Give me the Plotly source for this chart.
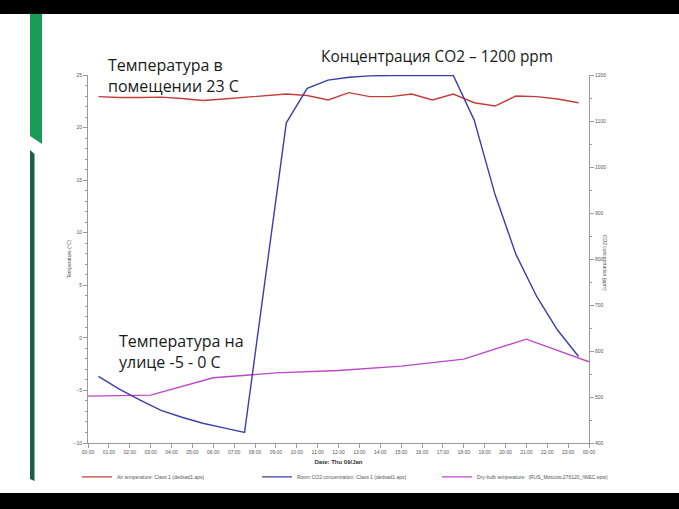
import plotly.graph_objects as go

# ---- data ----
hours_half = [0.5, 1.5, 2.5, 3.5, 4.5, 5.5, 6.5, 7.5, 8.5, 9.5, 10.5, 11.5,
              12.5, 13.5, 14.5, 15.5, 16.5, 17.5, 18.5, 19.5, 20.5, 21.5, 22.5, 23.5]
air_temp = [22.94, 22.86, 22.86, 22.9, 22.76, 22.57, 22.72, 22.86, 23.05, 23.19, 23.05, 22.62,
            23.32, 22.94, 22.94, 23.19, 22.62, 23.19, 22.36, 22.05, 23.0, 22.94, 22.72, 22.36]
co2 = [545, 517, 493, 471, 456, 443, 433, 423, 760, 1096, 1171, 1189,
       1195, 1198, 1199, 1199, 1199, 1199, 1102, 940, 810, 718, 645, 588]
hours_3h = [0, 3, 6, 9, 12, 15, 18, 21, 24]
outdoor_temp = [-5.54, -5.45, -3.80, -3.33, -3.10, -2.69, -2.02, -0.12, -2.28]

tick_hours = list(range(25))
tick_labels = ["%02d:00" % (h % 24) for h in tick_hours]

names = ["Air temperature: Class 1 (dedsad1.aps)",
         "Room CO2 concentration: Class 1 (dedsad1.aps)",
         "Dry-bulb temperature:  (RUS_Moscow.276120_IWEC.epw)"]

RED = "#c63c3c"
BLUE = "#3d3daa"
PURPLE = "#bb48c8"
AX = "#9a9a9a"
TXT = "#555555"

fig = go.Figure()
fig.add_trace(go.Scatter(x=hours_half, y=air_temp, mode="lines", name=names[0],
                         line=dict(color=RED, width=1.4), yaxis="y"))
fig.add_trace(go.Scatter(x=hours_half, y=co2, mode="lines", name=names[1],
                         line=dict(color=BLUE, width=1.4), yaxis="y2"))
fig.add_trace(go.Scatter(x=hours_3h, y=outdoor_temp, mode="lines", name=names[2],
                         line=dict(color=PURPLE, width=1.4), yaxis="y"))

tickfont = dict(family="Liberation Sans, Arial", size=5, color=TXT)

fig.update_layout(
    width=679, height=509,
    margin=dict(l=88, r=90, t=75, b=66),
    paper_bgcolor="white", plot_bgcolor="white",
    showlegend=True,
    legend=dict(orientation="h", x=-0.022, xanchor="left", y=-0.092, yanchor="middle",
                font=dict(family="Liberation Sans, Arial", size=5, color=TXT),
                entrywidth=135, entrywidthmode="pixels", itemwidth=30,
                bgcolor="rgba(0,0,0,0)"),
    xaxis=dict(range=[0, 24], tickvals=tick_hours, ticktext=tick_labels,
               showgrid=False, zeroline=False, showline=True, linecolor=AX, linewidth=1,
               ticks="outside", ticklen=4, tickcolor=AX, tickfont=tickfont,
               title=dict(text="<b>Date: Thu 09/Jan</b>", standoff=5,
                          font=dict(family="Liberation Sans, Arial", size=6, color="#333"))),
    yaxis=dict(range=[-10, 25], dtick=5, showgrid=False, zeroline=False,
               showline=True, linecolor=AX, linewidth=1,
               ticks="outside", ticklen=4, tickcolor=AX, tickfont=tickfont,
               minor=dict(dtick=1, ticks="outside", ticklen=2, tickcolor=AX),
               title=dict(text="Temperature (°C)", standoff=1,
                          font=dict(family="Liberation Sans, Arial", size=5, color=TXT))),
    yaxis2=dict(range=[400, 1200], dtick=100, overlaying="y", side="right",
                showgrid=False, zeroline=False, showline=True, linecolor=AX, linewidth=1,
                ticks="outside", ticklen=4, tickcolor=AX, tickfont=tickfont,
                minor=dict(dtick=50, ticks="outside", ticklen=2, tickcolor=AX)),
)

# right axis title, reading top-to-bottom
fig.add_annotation(text="CO2 concentration (ppm)", xref="paper", yref="paper",
                   x=1.042, y=0.49, textangle=90, showarrow=False,
                   font=dict(family="Liberation Sans, Arial", size=5, color=TXT))

big = dict(family="Open Sans, Noto Sans", size=16, color="#1a1a1a")
fig.add_annotation(text="Температура в<br>помещении 23 С", xref="paper", yref="paper",
                   x=0.036, y=0.9986, xanchor="left", yanchor="middle", align="left",
                   showarrow=False, font=big)
fig.add_annotation(text="Концентрация CO2 – 1200 ppm", xref="paper", yref="paper",
                   x=0.461, y=1.049, xanchor="left", yanchor="middle", align="left",
                   showarrow=False, font=dict(family="Open Sans, Noto Sans", size=15.4, color="#1a1a1a"))
fig.add_annotation(text="Температура на<br>улице -5 - 0 С", xref="paper", yref="paper",
                   x=0.058, y=0.248, xanchor="left", yanchor="middle", align="left",
                   showarrow=False, font=big)

# slide decorations: black bars and green stripes (pixel-based paper coordinates)
def px_x(x):
    return (x - 88) / 501.0

def px_y(y):
    return (443 - y) / 368.0

fig.add_shape(type="rect", xref="paper", yref="paper", x0=px_x(0), x1=px_x(679),
              y0=px_y(14), y1=px_y(0), fillcolor="black", line=dict(width=0), layer="above")
fig.add_shape(type="rect", xref="paper", yref="paper", x0=px_x(0), x1=px_x(679),
              y0=px_y(509), y1=px_y(493), fillcolor="black", line=dict(width=0), layer="above")
fig.add_shape(type="path", xref="paper", yref="paper",
              path="M %f,%f L %f,%f L %f,%f L %f,%f Z" % (
                  px_x(30), px_y(14), px_x(42), px_y(14), px_x(42), px_y(144), px_x(30), px_y(136)),
              fillcolor="#179b57", line=dict(width=0))
fig.add_shape(type="path", xref="paper", yref="paper",
              path="M %f,%f L %f,%f L %f,%f L %f,%f Z" % (
                  px_x(30), px_y(150), px_x(34.5), px_y(154), px_x(34.5), px_y(481), px_x(30), px_y(479)),
              fillcolor="#1c5e45", line=dict(width=0))

fig.write_html("out.html")
